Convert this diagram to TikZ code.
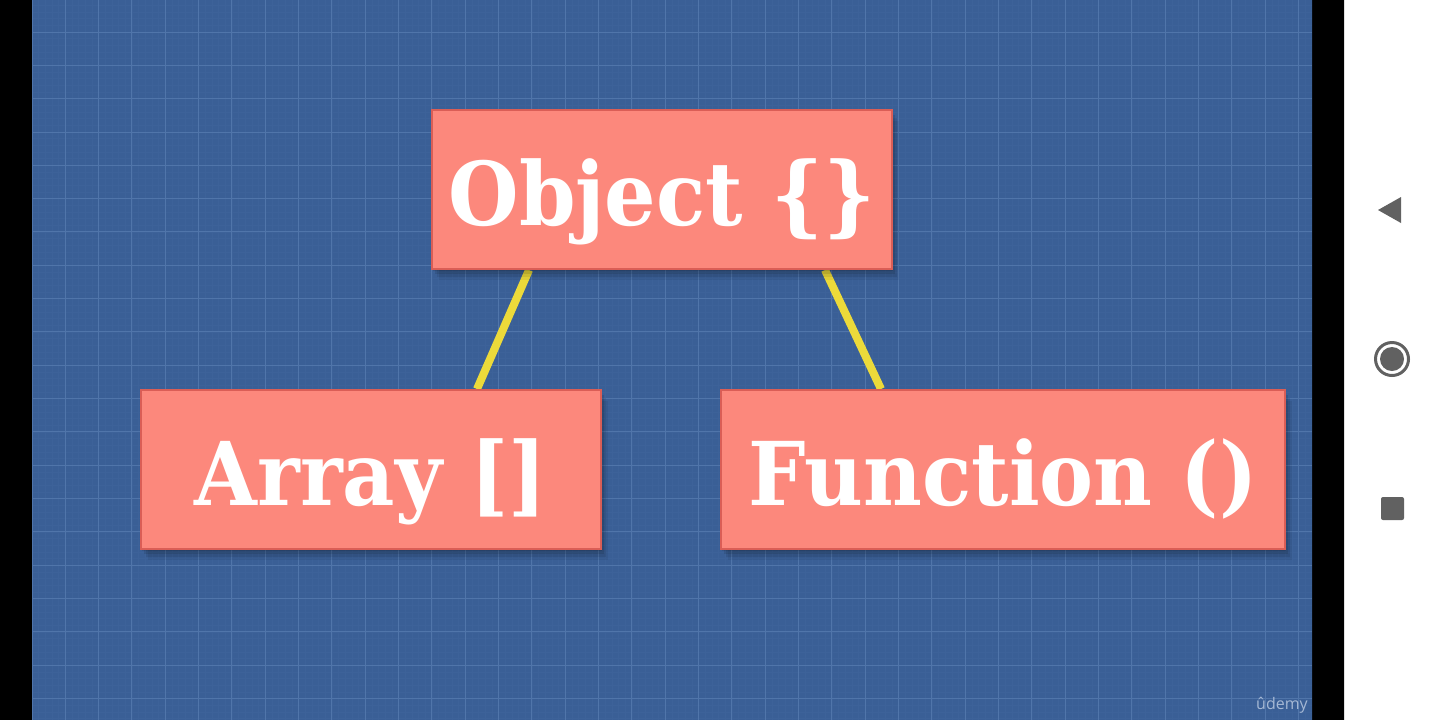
\documentclass[tikz,border=0pt]{standalone}
\usepackage{fontspec}
\newfontfamily\boxfont[FakeStretch=0.92]{DejaVu Serif}
\newfontfamily\logofont{Open Sans}
\definecolor{blueprint}{RGB}{58,95,150}
\definecolor{gridmaj}{RGB}{80,117,170}
\definecolor{gridmin}{RGB}{61,98,153}
\definecolor{salmon}{RGB}{252,136,124}
\definecolor{salmonedge}{RGB}{218,94,86}
\definecolor{linkyellow}{RGB}{236,218,58}
\definecolor{navgrey}{RGB}{97,97,97}
\definecolor{logoblue}{RGB}{165,184,212}
\pgfdeclarelayer{paper}
\pgfdeclarelayer{links}
\pgfsetlayers{paper,links,main}
\tikzset{
  typebox/.style={
    rectangle, fill=salmon, draw=salmonedge, line width=1pt,
    inner sep=0pt, text height=57.5pt, text depth=22pt,
    minimum height=79.5pt, text=white,
    font=\boxfont\bfseries\fontsize{44}{44}\selectfont,
    preaction={fill=black, fill opacity=0.10, transform canvas={xshift=0.5pt, yshift=-1pt}},
    preaction={fill=black, fill opacity=0.10, transform canvas={xshift=1.5pt, yshift=-2.5pt}},
    preaction={fill=black, fill opacity=0.08, transform canvas={xshift=2.5pt, yshift=-4pt}},
    preaction={fill=black, fill opacity=0.06, transform canvas={xshift=3.5pt, yshift=-5.5pt}}
  },
  link/.style={draw=linkyellow, line width=4pt},
  gridmajor/.style={draw=gridmaj, line width=0.5pt},
  gridminor/.style={draw=gridmin, line width=0.3pt}
}
\begin{document}
\begin{tikzpicture}[x=0.5pt, y=-0.5pt]
  \useasboundingbox (0,0) rectangle (1440,720);
  \begin{pgfonlayer}{paper}
    % screen frame: black side strips and the white navigation bar
    \fill[black] (0,0) rectangle (1344,720);
    \fill[white] (1344,0) rectangle (1440,720);
    \draw[gray!25, line width=0.6pt] (1344.5,0) -- (1344.5,720);
    % blueprint background with its grid
    \fill[blueprint] (32,0) rectangle (1312,720);
    \begin{scope}
      \clip (32,0) rectangle (1312,720);
      \foreach \i in {0,...,192} {
        \draw[gridminor] ({32+\i*6.666},0) -- ({32+\i*6.666},720);
      }
      \foreach \j in {-5,...,108} {
        \draw[gridminor] (32,{32+\j*6.666}) -- (1312,{32+\j*6.666});
      }
      \foreach \i in {0,...,38} {
        \draw[gridmajor] ({32+\i*33.33},0) -- ({32+\i*33.33},720);
      }
      \foreach \j in {-1,...,21} {
        \draw[gridmajor] (32,{32+\j*33.33}) -- (1312,{32+\j*33.33});
      }
    \end{scope}
  \end{pgfonlayer}
  % type hierarchy
  \node[typebox, minimum width=230pt] (obj) at (662,189.5) {Object \{\}};
  \node[typebox, minimum width=230pt] (arr) at (371,469.5) {Array []};
  \node[typebox, minimum width=282pt] (fun) at (1003,469.5) {Function ()};
  \begin{pgfonlayer}{links}
    \draw[link] ([xshift=49pt]obj.south west) -- ([xshift=168.5pt]arr.north west);
    \draw[link] ([xshift=197pt]obj.south west) -- ([xshift=80.5pt]fun.north west);
  \end{pgfonlayer}
  % watermark
  \node[text=logoblue, font=\logofont\fontsize{8}{8}\selectfont, anchor=base] (logo) at (1282,709) {ûdemy};
  % navigation buttons
  \fill[navgrey] (1378,210) -- (1401,197) -- (1401,223) -- cycle;
  \draw[navgrey, line width=1.5pt] (1392,359) circle (16.5);
  \fill[navgrey] (1392,359) circle (12);
  \fill[navgrey, rounded corners=1pt] (1381,497) rectangle (1404,520);
\end{tikzpicture}
\end{document}
